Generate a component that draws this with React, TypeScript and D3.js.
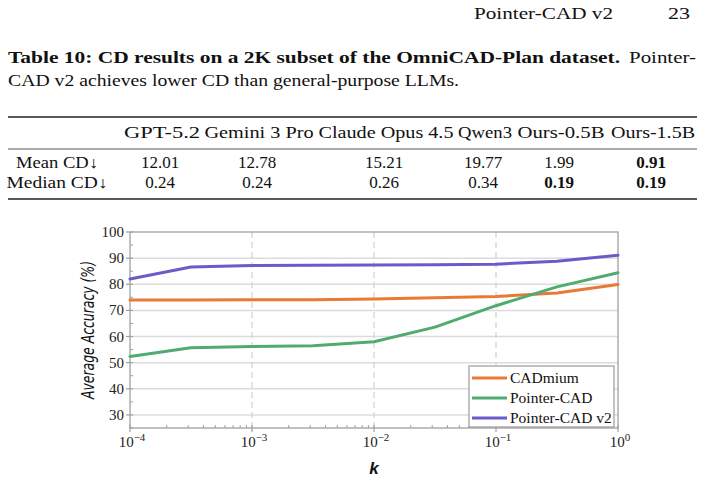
import React from "react";
import * as d3 from "d3";

// accuracy vs. k (log scale)
const kValues = [1e-4, 3.16e-4, 1e-3, 3.16e-3, 1e-2, 3.16e-2, 1e-1, 3.16e-1, 1];
const cadmium = [74.0, 74.0, 74.1, 74.1, 74.4, 74.8, 75.3, 76.7, 79.9];
const pointerCad = [52.4, 55.7, 56.2, 56.5, 58.0, 63.6, 71.8, 79.0, 84.4];
const pointerCadV2 = [82.0, 86.6, 87.2, 87.3, 87.4, 87.5, 87.7, 88.8, 91.1];
const seriesNames = ["CADmium", "Pointer-CAD", "Pointer-CAD v2"];
const seriesColors = ["#e97a35", "#50ab70", "#6b5bc9"];
const yTicks = [30, 40, 50, 60, 70, 80, 90, 100];
const xDecades = [-4, -3, -2, -1, 0];

// table 10
const models = ["GPT-5.2", "Gemini 3 Pro", "Claude Opus 4.5", "Qwen3", "Ours-0.5B", "Ours-1.5B"];
const meanCD = [12.01, 12.78, 15.21, 19.77, 1.99, 0.91];
const medianCD = [0.24, 0.24, 0.26, 0.34, 0.19, 0.19];

const serif = "'Liberation Serif', 'DejaVu Serif Condensed', 'DejaVu Serif', serif";
const W = 705;
const H = 483;

const colX = [162, 259, 386, 485, 561, 653];
const colW = [76, 109, 135, 54, 87, 84];

function Table() {
  const rows = [
    { label: "Mean CD↓", values: meanCD, y: 168, w: 82 },
    { label: "Median CD↓", values: medianCD, y: 188, w: 101 },
  ];
  return (
    <g fontFamily={serif} fill="#111">
      <text x={613} y={19} fontSize={16.5} textAnchor="end" textLength={139} lengthAdjust="spacingAndGlyphs">
        Pointer-CAD v2
      </text>
      <text x={690} y={19} fontSize={16.5} textAnchor="end" textLength={22} lengthAdjust="spacingAndGlyphs">23</text>

      <text x={8} y={63} fontSize={16}>
        <tspan fontWeight="bold" textLength={612} lengthAdjust="spacingAndGlyphs">
          Table 10: CD results on a 2K subset of the OmniCAD-Plan dataset.
        </tspan>
        <tspan x={629} textLength={67} lengthAdjust="spacingAndGlyphs">Pointer-</tspan>
      </text>
      <text x={8} y={86} fontSize={16} textLength={451} lengthAdjust="spacingAndGlyphs">
        CAD v2 achieves lower CD than general-purpose LLMs.
      </text>

      <line x1={8} x2={697} y1={117} y2={117} stroke="#222" strokeWidth={1.6} />
      <line x1={8} x2={697} y1={149} y2={149} stroke="#444" strokeWidth={0.9} />
      <line x1={8} x2={697} y1={199} y2={199} stroke="#222" strokeWidth={1.6} />

      {models.map((m, i) => (
        <text key={m} x={colX[i]} y={138} fontSize={16} textAnchor="middle"
          textLength={colW[i]} lengthAdjust="spacingAndGlyphs">
          {m}
        </text>
      ))}

      {rows.map((r) => {
        const best = d3.min(r.values) as number;
        return (
          <g key={r.label}>
            <text x={57} y={r.y} fontSize={16} textAnchor="middle" textLength={r.w}
              lengthAdjust="spacingAndGlyphs">{r.label}</text>
            {r.values.map((v, i) => (
              <text key={i} x={colX[i] - 2} y={r.y} fontSize={17} textAnchor="middle"
                fontWeight={v === best ? "bold" : "normal"}>
                {v.toFixed(2)}
              </text>
            ))}
          </g>
        );
      })}
    </g>
  );
}

function Chart() {
  const left = 130, right = 618, top = 232, bottom = 428;
  const x = d3.scaleLog().domain([1e-4, 1]).range([left, right]);
  const y = d3.scaleLinear().domain([25, 100]).range([bottom, top]);
  const series = [cadmium, pointerCad, pointerCadV2];
  const line = d3.line<number>().x((_, i) => x(kValues[i])).y((d) => y(d));

  const minorX: number[] = [];
  xDecades.slice(0, -1).forEach((e) => {
    for (let m = 2; m <= 9; m++) minorX.push(m * Math.pow(10, e));
  });
  const minorY = yTicks.filter((t) => t < 100).map((t) => t + 5).concat([25]);

  const axisColor = "#a0a0a0";
  const legX = 469, legY = 366;

  return (
    <g>
      {yTicks.filter((t) => t < 100).map((t) => (
        <line key={t} x1={left} x2={right} y1={y(t)} y2={y(t)} stroke="#dcdcdc" strokeWidth={1.5} />
      ))}
      {xDecades.slice(1, -1).map((e) => (
        <line key={e} x1={x(Math.pow(10, e))} x2={x(Math.pow(10, e))} y1={top} y2={bottom}
          stroke="#d4d4d4" strokeWidth={1.3} strokeDasharray="6,4" />
      ))}

      <rect x={left} y={top} width={right - left} height={bottom - top} fill="none" stroke={axisColor} strokeWidth={1.3} />

      {yTicks.map((t) => (
        <line key={t} x1={left - 4} x2={left + 3} y1={y(t)} y2={y(t)} stroke={axisColor} strokeWidth={1.2} />
      ))}
      {minorY.map((t) => (
        <line key={t} x1={left} x2={left + 3} y1={y(t)} y2={y(t)} stroke={axisColor} strokeWidth={1} />
      ))}
      {xDecades.map((e) => (
        <line key={e} x1={x(Math.pow(10, e))} x2={x(Math.pow(10, e))} y1={bottom - 3} y2={bottom + 4}
          stroke={axisColor} strokeWidth={1.2} />
      ))}
      {minorX.map((v) => (
        <line key={v} x1={x(v)} x2={x(v)} y1={bottom - 3} y2={bottom} stroke={axisColor} strokeWidth={1} />
      ))}

      <g fontFamily={serif} fontSize={15} fill="#222">
        {yTicks.map((t) => (
          <text key={t} x={left - 6} y={y(t) + 5} textAnchor="end">{t}</text>
        ))}
        {xDecades.map((e) => (
          <text key={e} x={x(Math.pow(10, e)) + 2} y={447} textAnchor="middle">
            10<tspan dy={-6} fontSize={11}>{e < 0 ? `−${-e}` : `${e}`}</tspan>
          </text>
        ))}
      </g>

      {series.map((s, i) => (
        <path key={seriesNames[i]} d={line(s) as string} fill="none" stroke={seriesColors[i]}
          strokeWidth={3} strokeLinejoin="round" strokeLinecap="round" />
      ))}

      <rect x={legX} y={legY} width={145} height={61} fill="white" stroke="#9a9a9a" strokeWidth={1.2} />
      {seriesNames.map((n, i) => (
        <g key={n}>
          <line x1={legX + 3} x2={legX + 38} y1={legY + 12 + i * 20} y2={legY + 12 + i * 20}
            stroke={seriesColors[i]} strokeWidth={3} />
          <text x={legX + 41} y={legY + 17 + i * 20} fontFamily={serif} fontSize={15.5} fill="#111">{n}</text>
        </g>
      ))}

      <text transform={`translate(94, ${(top + bottom) / 2}) rotate(-90)`} textAnchor="middle"
        fontFamily="'Liberation Sans Narrow', 'DejaVu Sans Condensed', Roboto, sans-serif" fontStyle="italic"
        fontSize={17} fill="#111" textLength={138} lengthAdjust="spacingAndGlyphs">
        Average Accuracy (%)
      </text>
      <text x={(left + right) / 2} y={474} textAnchor="middle" fontFamily="'Liberation Sans', Roboto, sans-serif"
        fontStyle="italic" fontWeight="bold" fontSize={17} fill="#111">
        k
      </text>
    </g>
  );
}

export default function App() {
  return (
    <svg width={W} height={H} viewBox={`0 0 ${W} ${H}`}
      style={{ position: "absolute", left: 0, top: 0, background: "white" }}>
      <Table />
      <Chart />
    </svg>
  );
}
